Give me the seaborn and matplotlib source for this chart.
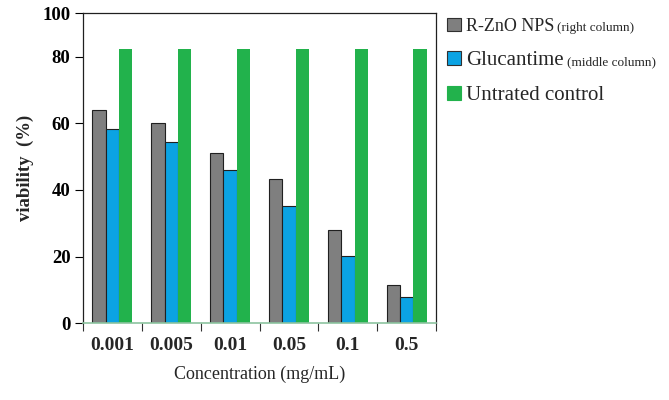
import matplotlib
matplotlib.use('Agg')
import matplotlib.pyplot as plt
import matplotlib.patches as mpatches
import pandas as pd
import seaborn as sns

# values
concentrations = ['0.001', '0.005', '0.01', '0.05', '0.1', '0.5']
rzno = [64.0, 60.0, 51.0, 43.3, 28.0, 11.5]
glucantime = [58.2, 54.3, 46.0, 35.2, 20.2, 8.0]
control = [82.3, 82.3, 82.3, 82.3, 82.3, 82.3]
groups = ['R-ZnO NPS', 'Glucantime', 'Untrated control']
notes = ['(right column)', '(middle column)', '']
colors = ['#7f7f7f', '#0ba3e3', '#22b24c']


def build_frame():
    rows = []
    for name, vals in zip(groups, [rzno, glucantime, control]):
        for c, v in zip(concentrations, vals):
            rows.append({'Concentration': c, 'Viability': v, 'Group': name})
    return pd.DataFrame(rows)


def main():
    df = build_frame()
    sns.set_style('white')
    plt.rcParams['font.family'] = ['Liberation Serif', 'DejaVu Serif']

    fig = plt.figure(figsize=(6.69, 4.0), dpi=100)
    ax = fig.add_axes([0.124, 0.192, 0.528, 0.775])
    sns.barplot(data=df, x='Concentration', y='Viability', hue='Group',
                hue_order=groups, order=concentrations, palette=colors,
                saturation=1, width=0.68, gap=0, ax=ax, legend=False)

    # dark outline on the grey and blue bars only
    for i, cont in enumerate(ax.containers):
        for bar in cont:
            if i < 2:
                bar.set_edgecolor('#202020')
                bar.set_linewidth(0.8)
            else:
                bar.set_edgecolor(colors[2])
                bar.set_linewidth(0)

    top = 93
    ax.set_ylim(0, top)
    ax.set_xlim(-0.5, len(concentrations) - 0.5)
    ax.set_yticks([0, 20, 40, 60, 80, top])
    ax.set_yticklabels(['0', '20', '40', '60', '80', '100'])
    ax.yaxis.get_major_ticks()[-1].tick1line.set_visible(False)
    ax.tick_params(axis='y', left=True, length=6, width=0.8, pad=3,
                   labelsize=13.5, colors='black')
    for t in ax.get_yticklabels():
        t.set_fontweight('bold')

    ax.set_xticks(range(len(concentrations)))
    ax.set_xticklabels(concentrations, fontweight='bold', fontsize=14)
    ax.set_xticks([x - 0.5 for x in range(len(concentrations) + 1)],
                  minor=True)
    ax.tick_params(axis='x', which='major', length=0, pad=10)
    ax.tick_params(axis='x', which='minor', bottom=True, length=6,
                   width=0.8, color='#303030')

    for side in ['left', 'top', 'right']:
        ax.spines[side].set_visible(True)
        ax.spines[side].set_color('#202020')
        ax.spines[side].set_linewidth(0.9)
    ax.spines['bottom'].set_color('#8cc4a0')
    ax.spines['bottom'].set_linewidth(1.2)

    ax.set_ylabel('viability  (%)', fontsize=13.5, fontweight='bold',
                  labelpad=6)
    ax.set_xlabel('Concentration (mg/mL)', fontsize=13, labelpad=8)

    handles = []
    for i, col in enumerate(colors):
        edge = '#303030' if i < 2 else col
        handles.append(mpatches.Patch(facecolor=col, edgecolor=edge,
                                      linewidth=0.8))
    leg = ax.legend(handles, groups, loc='upper left',
                    bbox_to_anchor=(1.01, 1.01), frameon=False,
                    handlelength=0.7, handleheight=0.7, handletextpad=0.25,
                    labelspacing=0.8, fontsize=14, borderaxespad=0)
    sizes = [13, 15, 15]
    for t, s in zip(leg.get_texts(), sizes):
        t.set_fontsize(s)

    # smaller parenthetical notes next to the legend labels
    fig.canvas.draw()
    renderer = fig.canvas.get_renderer()
    inv = fig.transFigure.inverted()
    for t, note in zip(leg.get_texts(), notes):
        if not note:
            continue
        bb = t.get_window_extent(renderer)
        x0, y0 = inv.transform((bb.x1 + 3, bb.y0 + bb.height * 0.42))
        fig.text(x0, y0, note, fontsize=9.5, va='center', ha='left')

    fig.savefig('out.png', dpi=100)


if __name__ == '__main__':
    main()
